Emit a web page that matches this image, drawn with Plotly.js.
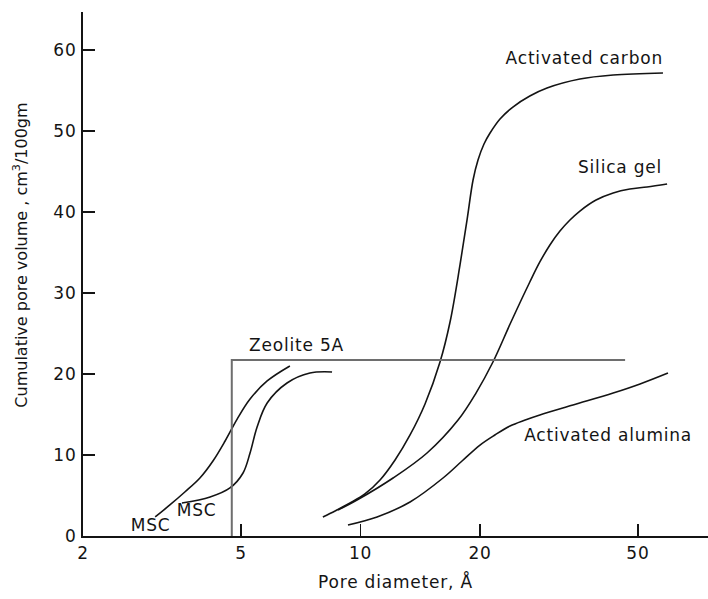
<!DOCTYPE html>
<html>
<head>
<meta charset="utf-8">
<script src="https://cdn.plot.ly/plotly-3.0.1.min.js"></script>
<style>
  html, body { margin: 0; padding: 0; background: #fff; }
  #chart { width: 708px; height: 599px; }
  /* slightly open lettering for the horizontal labels */
  #chart .main-svg text { letter-spacing: 0.8px; }
  #chart .annotation[data-index="6"] text { letter-spacing: 0; }
</style>
</head>
<body>
<div id="chart"></div>
<script>
// Cumulative pore volume (cm3/100 g) versus pore diameter (Å) for common adsorbents.
const carbonDiam = [8.04, 8.63, 9.41, 10.26, 11.20, 12.22, 13.33, 14.54, 15.86, 16.81, 17.81, 18.55, 19.21, 19.77, 20.47, 21.2, 22.46, 24.2, 26.7, 29.5, 35.7, 43.3, 57.8];
const carbonVol  = [2.35, 3.09, 4.07, 5.19, 6.91, 9.38, 12.47, 16.30, 21.48, 26.42, 33.46, 39.01, 43.95, 46.42, 48.40, 49.75, 51.48, 52.96, 54.32, 55.31, 56.42, 56.91, 57.16];

const silicaDiam = [8.78, 9.80, 12.08, 14.71, 17.61, 19.54, 21.56, 23.94, 26.7, 28.3, 30.0, 31.8, 33.7, 35.7, 39.2, 43.3, 47.7, 52.7, 59.2];
const silicaVol  = [3.21, 4.44, 7.16, 10.25, 14.32, 17.65, 21.48, 26.42, 31.36, 33.83, 35.93, 37.65, 39.01, 40.12, 41.48, 42.35, 42.84, 43.09, 43.46];

const aluminaDiam = [9.30, 11.01, 13.33, 16.14, 18.02, 20.0, 21.8, 23.8, 26.0, 28.3, 34.3, 43.3, 50.6, 59.5];
const aluminaVol  = [1.36, 2.35, 4.20, 7.16, 9.26, 11.23, 12.47, 13.58, 14.32, 14.94, 16.17, 17.65, 18.77, 20.12];

const msc1Diam = [3.04, 3.31, 3.61, 3.94, 4.25, 4.56, 4.89, 5.27, 5.82, 6.64];
const msc1Vol  = [2.35, 3.83, 5.43, 7.16, 9.26, 11.73, 14.44, 16.91, 19.14, 20.99];

const msc2Diam = [3.55, 4.18, 4.69, 5.06, 5.27, 5.49, 5.82, 6.53, 7.46, 8.48];
const msc2Vol  = [4.07, 4.81, 5.93, 7.78, 10.25, 13.46, 16.42, 18.89, 20.12, 20.25];

// Zeolite 5A: a single pore size, a step up to its full pore volume
const zeoliteDiam = [4.74, 4.74, 46.4];
const zeoliteVol  = [0, 21.73, 21.73];

const xTickVals = [2, 5, 10, 20, 50];
const yTickVals = [0, 10, 20, 30, 40, 50, 60];

// Curve labels: [text, diameter, volume]
const curveLabels = [
  ['Activated carbon', 36.6, 59.0],
  ['Silica gel', 45.0, 45.6],
  ['Activated alumina', 42.0, 12.47],
  ['Zeolite 5A', 6.88, 23.6],
  ['MSC', 2.95, 1.36],
  ['MSC', 3.87, 3.21]
];

const yTitle = 'Cumulative pore volume , cm<sup>3</sup>/100gm';
const xTitle = 'Pore diameter, Å';

const FONT = 'DejaVu Sans, Arial, sans-serif';
const INK = '#141414';

function curve(x, y) {
  return {
    x: x, y: y, type: 'scatter', mode: 'lines',
    line: { color: INK, width: 1.6, shape: 'spline', smoothing: 1 },
    hoverinfo: 'skip', showlegend: false
  };
}

const traces = [
  curve(carbonDiam, carbonVol),
  curve(silicaDiam, silicaVol),
  curve(aluminaDiam, aluminaVol),
  curve(msc1Diam, msc1Vol),
  curve(msc2Diam, msc2Vol),
  {
    x: zeoliteDiam, y: zeoliteVol, type: 'scatter', mode: 'lines',
    line: { color: '#6e6e6e', width: 2, shape: 'linear' },
    hoverinfo: 'skip', showlegend: false
  }
];

const annotations = curveLabels.map(([t, d, v]) => ({
  text: t, x: Math.log10(d), y: v, xref: 'x', yref: 'y',
  showarrow: false, xanchor: 'center', yanchor: 'middle',
  font: { family: FONT, size: 17, color: INK }
}));

// vertical axis title, centred a little above the middle of the axis
annotations.push({
  text: yTitle, textangle: -90,
  x: -0.1, y: 0.536, xref: 'paper', yref: 'paper',
  showarrow: false, xanchor: 'center', yanchor: 'middle',
  font: { family: FONT, size: 16, color: INK }
});

const layout = {
  width: 708, height: 599,
  margin: { l: 83, r: 0, t: 12, b: 63, pad: 0 },
  paper_bgcolor: '#ffffff', plot_bgcolor: '#ffffff',
  showlegend: false,
  font: { family: FONT, size: 17, color: INK },
  xaxis: {
    type: 'log',
    range: [Math.log10(2), Math.log10(2) + 625 / 397],
    tickvals: xTickVals, ticktext: xTickVals.map(String),
    ticks: 'inside', ticklen: 12, tickwidth: 1.6, tickcolor: INK,
    showline: true, linecolor: INK, linewidth: 2,
    showgrid: false, zeroline: false,
    ticklabelstandoff: 1,
    tickfont: { family: FONT, size: 17, color: INK },
    title: { text: xTitle, font: { family: FONT, size: 17, color: INK }, standoff: 14 }
  },
  yaxis: {
    range: [0, 524 / 8.1],
    tickvals: yTickVals,
    ticks: 'inside', ticklen: 12, tickwidth: 1.6, tickcolor: INK,
    showline: true, linecolor: INK, linewidth: 2,
    showgrid: false, zeroline: false,
    ticklabelstandoff: 1,
    tickfont: { family: FONT, size: 17, color: INK }
  },
  annotations: annotations
};

Plotly.newPlot('chart', traces, layout, { staticPlot: true, displayModeBar: false });
</script>
</body>
</html>
